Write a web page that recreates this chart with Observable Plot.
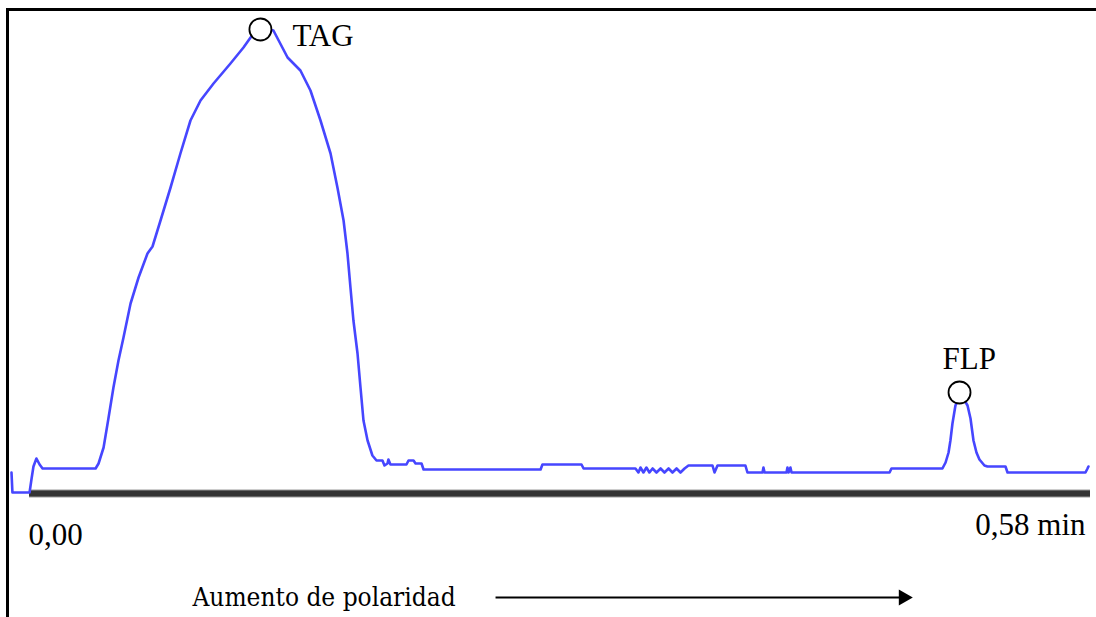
<!DOCTYPE html>
<html>
<head>
<meta charset="utf-8">
<script src="https://cdn.jsdelivr.net/npm/d3@7"></script>
<script src="https://cdn.jsdelivr.net/npm/@observablehq/plot@0.6"></script>
<style>
  html, body { margin: 0; padding: 0; background: #fff; overflow: hidden; }
  #fig { position: relative; width: 1096px; height: 617px; overflow: hidden; background: #fff; }
  #fig svg { position: absolute; left: 0; top: 0; }
  #border { position: absolute; left: 6px; top: 8px; width: 1300px; height: 800px;
            border-left: 3px solid #000; border-top: 3px solid #000; pointer-events: none; }
</style>
</head>
<body>
<div id="fig"></div>
<script>
// Detector trace: retention time (min) and signal (arbitrary units)
const times = [
  0.0000, 0.0005, 0.0097, 0.0108, 0.0118, 0.0134, 0.0151, 0.0167, 0.0452, 0.0468,
  0.0495, 0.0521, 0.0548, 0.0575, 0.0602, 0.0640, 0.0683, 0.0731, 0.0758, 0.0801,
  0.0855, 0.0908, 0.0962, 0.1016, 0.1086, 0.1177, 0.1247, 0.1285, 0.1338, 0.1408,
  0.1484, 0.1553, 0.1607, 0.1661, 0.1715, 0.1752, 0.1785, 0.1806, 0.1822, 0.1838,
  0.1860, 0.1876, 0.1892, 0.1914, 0.1940, 0.1962, 0.1994, 0.2005, 0.2021, 0.2026,
  0.2037, 0.2123, 0.2134, 0.2161, 0.2172, 0.2204, 0.2215, 0.2844, 0.2854, 0.3064,
  0.3075, 0.3354, 0.3370, 0.3381, 0.3397, 0.3413, 0.3429, 0.3446, 0.3467, 0.3489,
  0.3510, 0.3532, 0.3553, 0.3575, 0.3596, 0.3618, 0.3639, 0.3768, 0.3779, 0.3795,
  0.3945, 0.3956, 0.4037, 0.4042, 0.4048, 0.4166, 0.4171, 0.4177, 0.4187, 0.4193,
  0.4720, 0.4730, 0.5004, 0.5021, 0.5037, 0.5047, 0.5058, 0.5074, 0.5096, 0.5123,
  0.5139, 0.5155, 0.5171, 0.5187, 0.5203, 0.5230, 0.5246, 0.5343, 0.5354, 0.5773,
  0.5784, 0.5789
];
const signal = [
  20, 0, 0, 14, 26, 34, 28, 24, 24, 29,
  45, 74, 105, 132, 155, 189, 215, 239, 246, 272,
  305, 339, 372, 392, 409, 429, 445, 455, 465, 462,
  435, 422, 402, 372, 339, 305, 272, 239, 205, 172,
  139, 105, 72, 52, 37, 32, 32, 27, 29, 33,
  28, 28, 32, 32, 29, 29, 23, 23, 28, 28,
  24, 24, 20, 25, 20, 25, 20, 24, 20, 24,
  20, 24, 20, 24, 20, 24, 27, 27, 20, 27,
  27, 20, 20, 25, 20, 20, 25, 20, 25, 20,
  20, 24, 24, 30, 40, 52, 69, 87, 96, 92,
  87, 74, 52, 40, 33, 27, 26, 26, 20, 20,
  24, 26
];
const peakNames = ["TAG", "FLP"];
const tickTimes = [0, 0.58];
const tickLabels = ["0,00", "0,58 min"];
const axisCaption = "Aumento de polaridad";

const trace = times.map((t, i) => ({t, v: signal[i]}));
const tagPeak = d3.greatest(trace, d => d.v);
const flpPeak = d3.greatest(trace.filter(d => d.t > 0.45), d => d.v);
const peaks = [tagPeak, flpPeak].map((d, i) => ({...d, name: peakNames[i]}));
const ticks = tickTimes.map((t, i) => ({t, label: tickLabels[i]}));
const firstRise = trace.find((d, i) => i > 0 && d.v > 0 && trace[i - 1].v === 0);
const baseStart = trace[trace.indexOf(firstRise) - 1].t;

const serif = "'Liberation Serif', 'Times New Roman', serif";
const slab = "'DejaVu Serif Condensed', 'DejaVu Serif', serif";
const [t0, t1] = [tickTimes[0], tickTimes[1]];
const arrowFrom = t0 + (t1 - t0) * 0.4486;
const arrowTo = t0 + (t1 - t0) * 0.8350;

const chart = Plot.plot({
  width: 1096,
  height: 617,
  marginLeft: 11,
  marginRight: 6,
  marginTop: 22,
  marginBottom: 125,
  style: {background: "transparent"},
  x: {domain: [t0, t1], axis: null},
  y: {domain: [0, 470], axis: null},
  marks: [
    // baseline bar
    Plot.ruleY([0], {x1: baseStart, x2: t1, stroke: "#999", strokeWidth: 8, dy: 1}),
    Plot.ruleY([0], {x1: baseStart, x2: t1, stroke: "#333", strokeWidth: 6, dy: 1}),
    // chromatogram
    Plot.line(trace, {x: "t", y: "v", stroke: "#4646ff", strokeWidth: 2.6, strokeLinejoin: "round"}),
    // peak markers
    Plot.dot([peaks[0]], {x: "t", y: "v", r: 11, fill: "white", stroke: "black", strokeWidth: 1.8, dy: 2}),
    Plot.dot([peaks[1]], {x: "t", y: "v", r: 11, fill: "white", stroke: "black", strokeWidth: 1.8, dy: -4}),
    Plot.text([peaks[0]], {x: "t", y: "v", text: "name", textAnchor: "start", dx: 32, dy: 9,
      fontSize: 31, fontFamily: serif, fill: "black"}),
    Plot.text([peaks[1]], {x: "t", y: "v", text: "name", textAnchor: "start", dx: -17, dy: -37,
      fontSize: 31, fontFamily: serif, fill: "black"}),
    // time labels
    Plot.text([ticks[0]], {x: "t", y: 0, text: "label", textAnchor: "start", dx: 17, dy: 43,
      fontSize: 31, fontFamily: serif, fill: "black"}),
    Plot.text([ticks[1]], {x: "t", y: 0, text: "label", textAnchor: "end", dx: -5, dy: 33,
      fontSize: 31, fontFamily: serif, fill: "black"}),
    // polarity direction
    Plot.text([axisCaption], {x: t0 + (t1 - t0) * 0.1677, y: 0, text: d => d, textAnchor: "start", dy: 105,
      fontSize: 26, fontFamily: slab, fill: "black"}),
    Plot.link([0], {x1: arrowFrom, x2: arrowTo - 0.005, y1: 0, y2: 0, dy: 105, stroke: "black", strokeWidth: 2}),
    Plot.dot([0], {x: arrowTo, y: 0, dx: -9, dy: 105, symbol: "triangle", rotate: 90, r: 6,
      fill: "black", stroke: "none"})
  ]
});

const fig = document.getElementById("fig");
fig.appendChild(chart);
const border = document.createElement("div");
border.id = "border";
fig.appendChild(border);
</script>
</body>
</html>
